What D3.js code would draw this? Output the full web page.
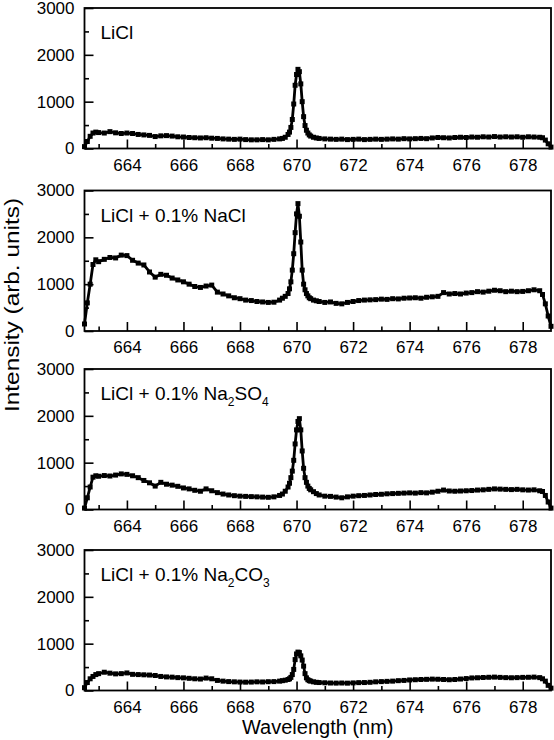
<!DOCTYPE html>
<html>
<head>
<meta charset="utf-8">
<script src="https://cdn.jsdelivr.net/npm/d3@7"></script>
<style>
  body { margin: 0; background: #fff; }
  svg { display: block; }
</style>
</head>
<body>
<div id="chart"></div>
<script>
// Wavelength grid (nm), denser around the Li line
const wavelength = [
  662.5, 662.6, 662.7, 662.8, 662.9, 663.0,
  663.2, 663.4, 663.6, 663.8, 664.0, 664.2, 664.4, 664.6, 664.8, 665.0,
  665.2, 665.4, 665.6, 665.8, 666.0, 666.2, 666.4, 666.6, 666.8, 667.0,
  667.2, 667.4, 667.6, 667.8, 668.0, 668.2, 668.4, 668.6, 668.8, 669.0,
  669.2, 669.4,
  669.5, 669.6, 669.7, 669.75, 669.8, 669.85, 669.9, 669.95, 670.0, 670.05, 670.1,
  670.15, 670.2, 670.25, 670.3, 670.35, 670.4, 670.45, 670.5, 670.6, 670.7, 670.8,
  671.0, 671.2, 671.4, 671.6, 671.8, 672.0, 672.2, 672.4, 672.6, 672.8,
  673.0, 673.2, 673.4, 673.6, 673.8, 674.0, 674.2, 674.4, 674.6, 674.8,
  675.0, 675.2, 675.4, 675.6, 675.8, 676.0, 676.2, 676.4, 676.6, 676.8,
  677.0, 677.2, 677.4, 677.6, 677.8, 678.0, 678.2, 678.4, 678.6,
  678.7, 678.8, 678.9, 679.0
];

const liclOnly = [
  40, 150, 260, 330, 350, 340,
  330, 360, 335, 320, 330, 320, 300, 290, 280, 255,
  270, 275, 265, 250, 245, 235, 230, 225, 230, 220,
  215, 205, 200, 195, 200, 190, 185, 185, 190, 185,
  195, 205,
  215, 240, 300, 350, 450, 620, 950, 1350, 1580, 1690, 1640,
  1380, 1000, 680, 490, 390, 330, 290, 265, 240, 225, 215,
  205, 200, 195, 200, 190, 195, 200, 190, 195, 200,
  195, 200, 205, 200, 210, 205, 210, 215, 210, 225,
  235, 230, 225, 235, 240, 235, 245, 240, 250, 245,
  255, 245, 250, 245, 250, 240, 250, 245, 240,
  230, 180, 100, 30
];

const liclNaCl = [
  150, 600, 1000, 1420, 1520, 1480,
  1530, 1570, 1560, 1620, 1610, 1510, 1450, 1410, 1260, 1150,
  1210, 1190, 1130, 1090, 1050, 1000, 950, 930, 960, 980,
  830, 790, 750, 710, 690, 660, 650, 630, 620, 610,
  615, 660,
  700, 740, 800, 900, 1050, 1300, 1650, 2100, 2500, 2720, 2450,
  1900, 1300, 1000, 880, 800, 750, 710, 690, 660, 645, 630,
  610, 620, 590, 580, 610, 630, 650, 660, 665, 670,
  680, 675, 690, 685, 700, 705, 710, 700, 720, 730,
  740, 820, 790, 800, 790, 810, 820, 840, 830, 850,
  870, 860, 840, 850, 840, 845, 860, 880, 860,
  780, 580, 320, 100
];

const liclNa2SO4 = [
  30, 250, 480, 690, 720, 710,
  725, 715, 735, 760, 750, 720, 680, 620, 570, 500,
  580, 540, 520, 495, 460, 440, 410, 390, 440, 400,
  360, 330, 310, 295, 285, 280, 275, 270, 265, 260,
  270, 300,
  330, 390, 480, 560, 680, 820, 1050, 1400, 1700, 1880, 1940,
  1700, 1250, 880, 680, 580, 500, 450, 420, 380, 340, 310,
  285, 280, 265, 250, 270, 285, 295, 300, 310, 320,
  325, 335, 340, 345, 350, 355, 350, 360, 355, 370,
  390, 415, 395, 390, 395, 400, 405, 415, 420, 430,
  440, 435, 430, 425, 430, 420, 415, 420, 400,
  385, 300, 160, 30
];

const liclNa2CO3 = [
  60, 170, 250, 300, 340, 360,
  390, 370, 355, 360, 375, 345, 340, 335, 330, 320,
  300, 290, 285, 275, 270, 260, 250, 245, 265, 250,
  215, 200, 190, 185, 180, 178, 180, 185, 182, 188,
  190, 200,
  210, 220, 235, 250, 280, 340, 450, 660, 780, 820, 810,
  740, 650, 520, 360, 270, 230, 210, 200, 185, 175, 170,
  165, 160, 158, 160, 157, 162, 168, 170, 175, 185,
  190, 195, 200, 210, 215, 225, 230, 235, 238, 243,
  240, 235, 230, 235, 245, 255, 268, 272, 278, 282,
  286, 280, 275, 272, 275, 280, 282, 286, 275,
  250, 200, 110, 50
];

const panelNames = [
  "LiCl",
  "LiCl + 0.1% NaCl",
  "LiCl + 0.1% Na_2SO_4",
  "LiCl + 0.1% Na_2CO_3"
];
const panelSeries = [liclOnly, liclNaCl, liclNa2SO4, liclNa2CO3];

const xDomain = [662.5, 679];
const yDomain = [0, 3000];
const xMajorTicks = [664, 666, 668, 670, 672, 674, 676, 678];
const xMinorTicks = [663, 665, 667, 669, 671, 673, 675, 677];
const yMajorTicks = [0, 1000, 2000, 3000];
const yMinorTicks = [500, 1500, 2500];

// layout
const width = 554;
const height = 740;
const plotLeft = 84.5;
const plotRight = 551;
const panelTops = [8, 190.5, 369, 550];
const panelHeight = 140.5;
const fontFamily = '"Liberation Sans", Arial, Helvetica, sans-serif';

panelSeries.forEach((s, i) => {
  if (s.length !== wavelength.length) {
    throw new Error(`series ${i} has ${s.length} values, expected ${wavelength.length}`);
  }
});

class SpectrumPanel {
  constructor(svg, values, name, top) {
    this.svg = svg;
    this.values = values;
    this.name = name;
    this.top = top;

    this.initialize();
    this.drawSpectrum();
    this.drawFrame();
    this.drawAxes();
    this.drawLabel();
  }

  initialize() {
    this.g = this.svg.append("g")
      .attr("transform", `translate(0,${this.top})`);

    this.x = d3.scaleLinear().domain(xDomain).range([plotLeft, plotRight]);
    this.y = d3.scaleLinear().domain(yDomain).range([panelHeight, 0]);

    this.points = wavelength.map((w, i) => ({ w: w, v: this.values[i] }));
  }

  drawSpectrum() {
    const line = d3.line()
      .x(d => this.x(d.w))
      .y(d => this.y(d.v));

    this.g.append("path")
      .datum(this.points)
      .attr("fill", "none")
      .attr("stroke", "#000")
      .attr("stroke-width", 2.8)
      .attr("stroke-linejoin", "round")
      .attr("d", line);

    const square = d3.symbol().type(d3.symbolSquare).size(25);
    this.g.append("g")
      .selectAll("path")
      .data(this.points)
      .join("path")
      .attr("transform", d => `translate(${this.x(d.w)},${this.y(d.v)})`)
      .attr("fill", "#000")
      .attr("d", square);
  }

  drawFrame() {
    this.g.append("rect")
      .attr("x", plotLeft)
      .attr("y", 0)
      .attr("width", plotRight - plotLeft)
      .attr("height", panelHeight)
      .attr("fill", "none")
      .attr("stroke", "#000")
      .attr("stroke-width", 1.8);
  }

  styleAxis(sel) {
    sel.select(".domain").remove();
    sel.attr("font-size", 17).attr("font-family", fontFamily);
    sel.selectAll(".tick line").attr("stroke", "#000").attr("stroke-width", 1.6);
    sel.selectAll(".tick text").attr("fill", "#000");
  }

  drawAxes() {
    const fmt = d3.format("d");

    const yMajor = this.g.append("g")
      .attr("transform", `translate(${plotLeft},0)`)
      .call(d3.axisLeft(this.y).tickValues(yMajorTicks).tickFormat(fmt).tickSize(-9).tickPadding(10));
    this.styleAxis(yMajor);

    const yMinor = this.g.append("g")
      .attr("transform", `translate(${plotLeft},0)`)
      .call(d3.axisLeft(this.y).tickValues(yMinorTicks).tickSize(-4.5).tickFormat(""));
    this.styleAxis(yMinor);

    const xMajor = this.g.append("g")
      .attr("transform", `translate(0,${panelHeight})`)
      .call(d3.axisBottom(this.x).tickValues(xMajorTicks).tickFormat(fmt).tickSize(-9).tickPadding(10));
    this.styleAxis(xMajor);

    const xMinor = this.g.append("g")
      .attr("transform", `translate(0,${panelHeight})`)
      .call(d3.axisBottom(this.x).tickValues(xMinorTicks).tickSize(-4.5).tickFormat(""));
    this.styleAxis(xMinor);
  }

  drawLabel() {
    const label = this.g.append("text")
      .attr("x", plotLeft + 16)
      .attr("y", 31)
      .attr("font-family", fontFamily)
      .attr("font-size", 19)
      .attr("fill", "#000");

    // "_n" marks a subscript digit
    const pieces = this.name.split(/(_\d)/).filter(p => p.length);
    let shifted = false;
    pieces.forEach(p => {
      if (p.startsWith("_")) {
        label.append("tspan").attr("font-size", 12).attr("dy", 6).text(p.slice(1));
        shifted = true;
      } else {
        label.append("tspan").attr("dy", shifted ? -6 : 0).text(p);
        shifted = false;
      }
    });
  }
}

const svg = d3.select("#chart").append("svg")
  .attr("width", width)
  .attr("height", height);

panelSeries.forEach((values, i) => {
  new SpectrumPanel(svg, values, panelNames[i], panelTops[i]);
});

svg.append("text")
  .attr("x", (plotLeft + plotRight) / 2)
  .attr("y", 734)
  .attr("text-anchor", "middle")
  .attr("font-family", fontFamily)
  .attr("font-size", 20)
  .attr("fill", "#000")
  .text("Wavelength (nm)");

svg.append("text")
  .attr("transform", "translate(19,305) rotate(-90)")
  .attr("text-anchor", "middle")
  .attr("font-family", fontFamily)
  .attr("font-size", 20)
  .attr("textLength", 214)
  .attr("lengthAdjust", "spacingAndGlyphs")
  .attr("fill", "#000")
  .text("Intensity (arb. units)");
</script>
</body>
</html>
